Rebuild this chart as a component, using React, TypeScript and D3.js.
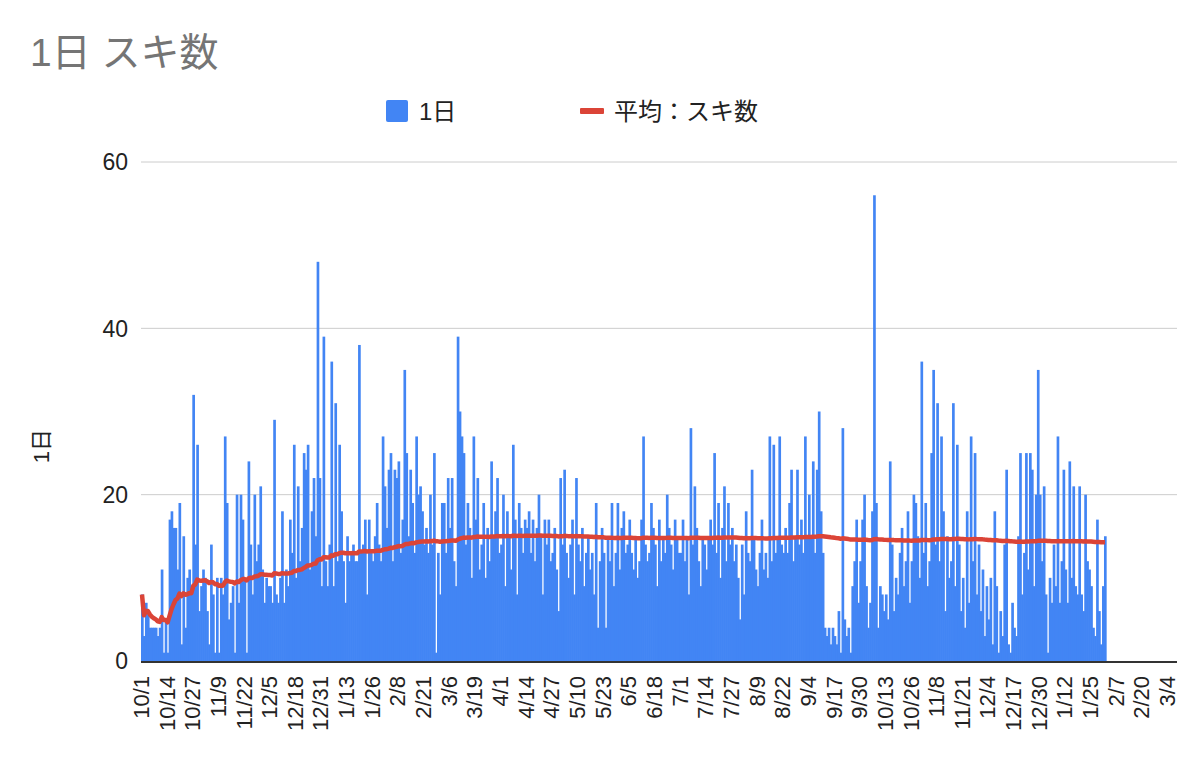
import React, { useEffect, useRef } from 'react';
import * as d3 from 'd3';

// daily "スキ" counts from 2022-10-01, one row per 13-day tick interval
const dailyLikes: number[] = [
  8, 3, 7, 6, 4, 4, 4, 4, 3, 4, 11, 1, 5, // 10/1
  1, 17, 18, 16, 16, 11, 19, 2, 15, 4, 10, 11, 8, // 10/14
  32, 14, 26, 6, 9, 11, 10, 6, 2, 14, 8, 1, 10, // 10/27
  1, 10, 8, 27, 19, 5, 7, 9, 1, 20, 7, 20, 17, // 11/9
  10, 1, 24, 14, 8, 20, 12, 14, 21, 11, 7, 10, 9, // 11/22
  9, 7, 29, 8, 7, 10, 18, 7, 11, 9, 17, 13, 26, // 12/5
  10, 21, 12, 16, 25, 23, 26, 11, 18, 22, 15, 48, 22, // 12/18
  9, 39, 12, 9, 14, 36, 9, 31, 12, 26, 18, 12, 7, // 12/31
  15, 12, 13, 14, 12, 12, 38, 13, 14, 17, 8, 17, 13, // 1/13
  12, 15, 19, 14, 12, 27, 21, 16, 23, 25, 12, 23, 22, // 1/26
  24, 13, 17, 35, 25, 15, 23, 19, 13, 27, 20, 21, 18, // 2/8
  14, 16, 13, 20, 14, 25, 1, 13, 8, 19, 19, 13, 22, // 2/21
  16, 22, 12, 9, 39, 30, 27, 25, 14, 19, 16, 10, 27, // 3/6
  17, 22, 11, 14, 19, 10, 16, 12, 24, 15, 18, 22, 13, // 3/19
  14, 20, 9, 18, 15, 11, 26, 17, 8, 19, 16, 13, 17, // 4/1
  16, 18, 13, 17, 12, 16, 20, 15, 8, 17, 14, 17, 12, // 4/14
  13, 16, 11, 6, 22, 14, 23, 13, 10, 14, 17, 8, 22, // 4/27
  14, 12, 16, 9, 13, 15, 11, 13, 8, 19, 4, 12, 16, // 5/10
  13, 4, 15, 12, 19, 9, 13, 19, 11, 16, 18, 13, 14, // 5/23
  17, 13, 11, 15, 10, 12, 17, 27, 14, 12, 13, 19, 16, // 6/5
  14, 9, 17, 12, 15, 13, 20, 16, 14, 11, 17, 15, 13, // 6/18
  13, 17, 12, 15, 8, 28, 14, 21, 16, 12, 9, 15, 14, // 7/1
  11, 15, 17, 14, 25, 13, 19, 10, 16, 21, 12, 19, 14, // 7/14
  16, 12, 14, 10, 5, 14, 8, 18, 13, 12, 23, 15, 11, // 7/27
  9, 13, 17, 11, 13, 10, 27, 12, 26, 13, 15, 27, 14, // 8/9
  13, 16, 13, 19, 23, 12, 15, 23, 14, 17, 13, 27, 15, // 8/22
  20, 15, 24, 13, 23, 30, 18, 13, 4, 3, 4, 2, 4, // 9/4
  3, 2, 6, 1, 28, 5, 3, 4, 1, 9, 12, 17, 7, // 9/17
  12, 17, 20, 9, 4, 7, 18, 56, 19, 4, 9, 8, 6, // 9/30
  8, 5, 24, 14, 6, 10, 8, 13, 16, 9, 12, 18, 7, // 10/13
  12, 20, 19, 15, 10, 36, 13, 19, 9, 12, 25, 35, 14, // 10/26
  31, 12, 27, 18, 6, 15, 10, 12, 31, 9, 26, 14, 6, // 11/8
  10, 4, 18, 7, 27, 12, 25, 8, 14, 6, 11, 3, 9, // 11/21
  5, 10, 2, 18, 9, 1, 6, 3, 14, 23, 2, 1, 7, // 12/4
  4, 3, 15, 25, 8, 13, 25, 11, 25, 23, 9, 20, 35, // 12/17
  20, 12, 21, 8, 1, 10, 7, 14, 9, 27, 7, 12, 23, // 12/30
  11, 7, 24, 10, 21, 9, 8, 21, 8, 6, 20, 12, 11, // 1/12
  9, 4, 3, 17, 6, 2, 9, 15, // 1/25
];

const startDate = new Date(2022, 9, 1);
const axisEnd = new Date(2024, 2, 9);
const tickStepDays = 13;
const yTicks = [0, 20, 40, 60];

const titleText = '1日 スキ数';
const barLabel = '1日';
const lineLabel = '平均：スキ数';
const yAxisLabel = '1日';

const FONT = '"Liberation Sans", Arial, "Noto Sans CJK JP", sans-serif';

interface DayPoint {
  date: Date;
  value: number;
  avg: number;
}

const App: React.FC = () => {
  const svgRef = useRef<SVGSVGElement>(null);

  useEffect(() => {
    if (!svgRef.current) return;

    const width = 1200;
    const height = 762;
    const plot = { left: 141, right: 1177, top: 162, bottom: 661 };

    const svg = d3.select(svgRef.current);
    svg.selectAll('*').remove();
    svg.attr('width', width).attr('height', height);

    svg.append('rect').attr('width', width).attr('height', height).attr('fill', '#fff');

    // running mean of the daily counts
    let sum = 0;
    const data: DayPoint[] = dailyLikes.map((v, i) => {
      sum += v;
      return { date: d3.timeDay.offset(startDate, i), value: v, avg: sum / (i + 1) };
    });

    const x = d3.scaleTime().domain([startDate, axisEnd]).range([plot.left, plot.right]);
    const y = d3.scaleLinear().domain([0, 60]).range([plot.bottom, plot.top]);
    const dayW = x(d3.timeDay.offset(startDate, 1)) - x(startDate);

    // Title
    svg
      .append('text')
      .attr('x', 30)
      .attr('y', 66)
      .attr('font-family', FONT)
      .attr('font-size', 39)
      .attr('fill', '#757575')
      .text(titleText);

    // Legend
    const legend = svg.append('g').attr('font-family', FONT).attr('font-size', 24).attr('fill', '#222');
    legend
      .append('rect')
      .attr('x', 386)
      .attr('y', 100)
      .attr('width', 22)
      .attr('height', 22)
      .attr('rx', 2)
      .attr('fill', '#4285F4');
    legend.append('text').attr('x', 419).attr('y', 120).text(barLabel);
    legend
      .append('rect')
      .attr('x', 580)
      .attr('y', 108)
      .attr('width', 24)
      .attr('height', 6)
      .attr('rx', 1)
      .attr('fill', '#DB4437');
    legend.append('text').attr('x', 614).attr('y', 120).text(lineLabel);

    // Gridlines + y labels
    const yAxis = svg.append('g').attr('font-family', FONT).attr('font-size', 23).attr('fill', '#222');
    yTicks.forEach(t => {
      if (t !== 0) {
        svg
          .append('line')
          .attr('x1', plot.left)
          .attr('x2', plot.right)
          .attr('y1', y(t))
          .attr('y2', y(t))
          .attr('stroke', '#ccc')
          .attr('stroke-width', 1);
      }
      yAxis
        .append('text')
        .attr('x', 128)
        .attr('y', y(t))
        .attr('dy', '0.36em')
        .attr('text-anchor', 'end')
        .text(t);
    });

    svg
      .append('text')
      .attr('transform', `translate(41,446) rotate(-90)`)
      .attr('text-anchor', 'middle')
      .attr('dy', '0.36em')
      .attr('font-family', FONT)
      .attr('font-size', 22)
      .attr('fill', '#222')
      .text(yAxisLabel);

    // Bars
    svg
      .append('g')
      .selectAll('rect')
      .data(data)
      .enter()
      .append('rect')
      .attr('x', d => x(d.date))
      .attr('y', d => y(d.value))
      .attr('width', dayW + 0.7)
      .attr('height', d => y(0) - y(d.value))
      .attr('fill', '#4285F4');

    // Average line
    const line = d3
      .line<DayPoint>()
      .x(d => x(d.date) + dayW / 2)
      .y(d => y(d.avg));

    svg
      .append('path')
      .datum(data)
      .attr('fill', 'none')
      .attr('stroke', '#DB4437')
      .attr('stroke-width', 4.5)
      .attr('stroke-linejoin', 'round')
      .attr('d', line);

    // Baseline
    svg
      .append('line')
      .attr('x1', plot.left)
      .attr('x2', plot.right)
      .attr('y1', y(0) + 1)
      .attr('y2', y(0) + 1)
      .attr('stroke', '#333')
      .attr('stroke-width', 2);

    // X tick labels
    const fmt = d3.timeFormat('%-m/%-d');
    const ticks = d3.timeDay.range(startDate, axisEnd, tickStepDays);
    svg
      .append('g')
      .attr('font-family', FONT)
      .attr('font-size', 22)
      .attr('fill', '#222')
      .selectAll('text')
      .data(ticks)
      .enter()
      .append('text')
      .attr('transform', d => `translate(${x(d)},676) rotate(-90)`)
      .attr('text-anchor', 'end')
      .attr('dy', '0.36em')
      .text(d => fmt(d));
  }, []);

  return <svg ref={svgRef} style={{ position: 'absolute', left: 0, top: 0 }}></svg>;
};

export default App;
